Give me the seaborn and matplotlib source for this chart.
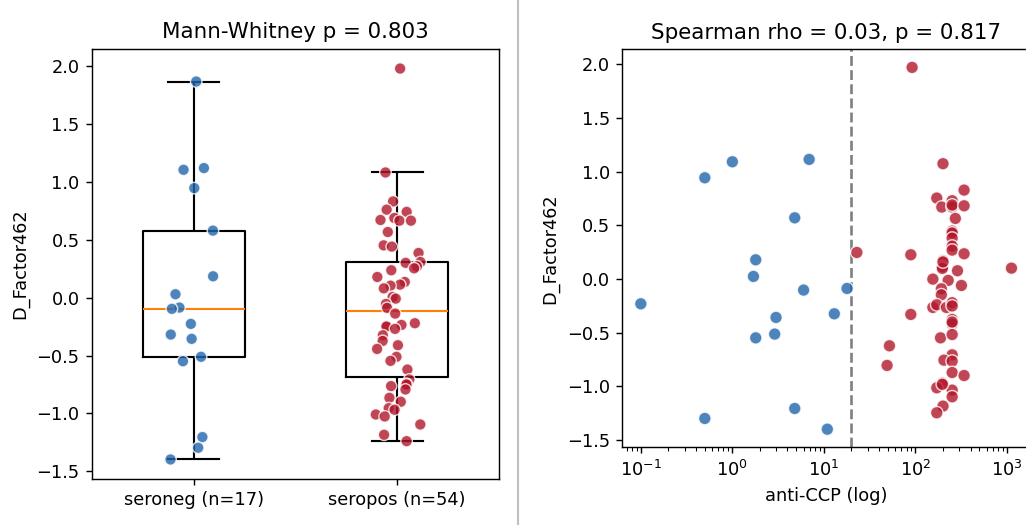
import numpy as np
import pandas as pd
import matplotlib
matplotlib.use("Agg")
import matplotlib.pyplot as plt
from matplotlib.lines import Line2D
import seaborn as sns

# ---------------- data ----------------
group_labels = ["seroneg (n=17)", "seropos (n=54)"]
group_colors = ["#2166ac", "#b2182b"]

d_seroneg = [1.865, 1.118, 1.103, 0.945, 0.578, 0.184, 0.029, -0.086, -0.097,
             -0.227, -0.319, -0.356, -0.511, -0.549, -1.204, -1.296, -1.397]

d_seropos = [1.977, 1.080, 0.830, 0.759, 0.740, 0.687, 0.670, 0.664, 0.664,
             0.566, 0.451, 0.440, 0.385, 0.307, 0.300, 0.270, 0.253, 0.236,
             0.178, 0.135, 0.112, 0.103, 0.080, 0.006, -0.009, -0.055, -0.089,
             -0.138, -0.221, -0.236, -0.247, -0.250, -0.270, -0.325, -0.374,
             -0.411, -0.443, -0.511, -0.546, -0.621, -0.707, -0.744, -0.750,
             -0.764, -0.793, -0.865, -0.899, -0.954, -0.968, -1.009, -1.026,
             -1.095, -1.184, -1.239]

ccp_neg = [0.1, 0.5, 0.5, 1.0, 6.9, 4.8, 1.8, 1.7, 6.0, 17.9, 3.0, 13.0,
           1.8, 2.9, 4.8, 10.9]
d_neg_ccp = [-0.230, 0.944, -1.298, 1.093, 1.115, 0.571, 0.180, 0.025, -0.102,
             -0.087, -0.357, -0.323, -0.547, -0.512, -1.205, -1.398]

ccp_pos = [92, 200, 340, 171, 252, 194, 252, 252, 340, 273, 252, 252, 252, 252,
           252, 340, 89, 22.9, 200, 197, 197, 1120, 288, 155, 228, 318, 192, 192,
           155, 171, 218, 252, 252, 89, 252, 252, 188, 252, 52, 252, 205, 252,
           49, 252, 340, 197, 171, 252, 252, 200, 171, 197, 252, 200]
d_pos_ccp = [1.972, 1.075, 0.829, 0.755, 0.730, 0.671, 0.671, 0.690, 0.683,
             0.565, 0.447, 0.430, 0.382, 0.307, 0.270, 0.236, 0.227, 0.248,
             0.171, 0.115, 0.100, 0.102, 0.078, 0.000, -0.012, -0.059, -0.090,
             -0.146, -0.264, -0.239, -0.264, -0.220, -0.250, -0.329, -0.376,
             -0.419, -0.547, -0.516, -0.621, -0.705, -0.755, -0.764, -0.804,
             -0.870, -0.898, -0.969, -1.012, -1.034, -1.096, -1.183, -1.245,
             -0.980, -0.400, 0.160]

threshold = 20
title_left = "Mann-Whitney p = 0.803"
title_right = "Spearman rho = 0.03, p = 0.817"
y_label = "D_Factor462"
x_label_right = "anti-CCP (log)"

# ---------------- frames ----------------
df_box = pd.DataFrame({
    "group": [group_labels[0]] * len(d_seroneg) + [group_labels[1]] * len(d_seropos),
    "value": d_seroneg + d_seropos,
})
df_sc = pd.DataFrame({
    "ccp": ccp_neg + ccp_pos,
    "value": d_neg_ccp + d_pos_ccp,
    "group": [group_labels[0]] * len(ccp_neg) + [group_labels[1]] * len(ccp_pos),
})
palette = dict(zip(group_labels, group_colors))

# ---------------- figure ----------------
DPI = 128
W, H = 1026, 525
fig = plt.figure(figsize=(W / DPI, H / DPI), dpi=DPI)

ax1 = fig.add_axes([92 / W, 1 - 479 / H, 407 / W, 430 / H])
ax2 = fig.add_axes([622.3 / W, 1 - 447.3 / H, 407.7 / W, 398 / H])

# left: box + strip
sns.boxplot(data=df_box, x="group", y="value", order=group_labels, ax=ax1,
            fill=False, color="black", linecolor="black", width=0.5,
            showfliers=False, linewidth=1.2,
            medianprops={"color": "#ff7f0e", "linewidth": 1.2})
np.random.seed(3)
sns.stripplot(data=df_box, x="group", y="value", order=group_labels,
              hue="group", palette=palette, ax=ax1, jitter=0.12, size=6.5,
              alpha=0.8, edgecolor="white", linewidth=0.8, legend=False, zorder=3)
ax1.set_xlabel("")
ax1.set_ylabel(y_label)
ax1.set_title(title_left)
ax1.set_xlim(-0.5, 1.5)

# right: scatter on log x
sns.scatterplot(data=df_sc, x="ccp", y="value", hue="group", palette=palette,
                ax=ax2, s=50, alpha=0.8, edgecolor="white", linewidth=0.8,
                legend=False, zorder=3)
ax2.set_xscale("log")
ax2.axvline(threshold, color="grey", linestyle="--", linewidth=1.5, zorder=1)
ax2.set_xlabel(x_label_right)
ax2.set_ylabel(y_label)
ax2.set_title(title_right)

# separator between the two panels
fig.add_artist(Line2D([518 / W, 518 / W], [0, 1], color="#c0c0c0", linewidth=1.2,
                      transform=fig.transFigure))

fig.savefig("out.png", dpi=DPI)
